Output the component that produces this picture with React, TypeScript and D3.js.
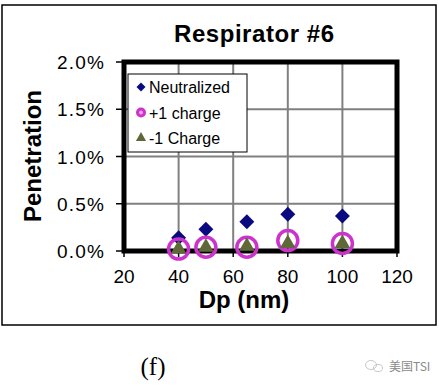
import * as React from 'react'
import * as d3 from 'd3'

// particle diameters (nm)
const dp = [40, 50, 65, 80, 100]
// penetration fractions
const neutralized = [0.0014, 0.0023, 0.0031, 0.0039, 0.0037]
const plusOne = [0.0002, 0.0004, 0.0004, 0.0011, 0.0008]
const minusOne = [0.0002, 0.0004, 0.0005, 0.0008, 0.0008]

const xTicks = [20, 40, 60, 80, 100, 120]
const yTicks = [0, 0.005, 0.01, 0.015, 0.02]
const legendLabels = ['Neutralized', '+1 charge', '-1 Charge']

const W = 439
const H = 385
const font = 'Arial, "Liberation Sans", sans-serif'

export default function App() {
    const x = d3.scaleLinear().domain([20, 120]).range([124, 397])
    const y = d3.scaleLinear().domain([0, 0.02]).range([251, 62])
    const pct = d3.format('.1%')

    // square turned 45deg looks like the excel diamond
    const diamond = d3.symbol().type(d3.symbolSquare).size(112)()
    const triangle = d3.symbol().type(d3.symbolTriangle).size(105)()
    const smallDiamond = d3.symbol().type(d3.symbolSquare).size(40)()
    const smallTriangle = d3.symbol().type(d3.symbolTriangle).size(45)()

    const [x0, x1] = x.range()
    const [y0, y1] = y.range()

    return <svg width={W} height={H} style={{ position: 'absolute', left: 0, top: 0, background: '#fff' }}>
        <rect x={2} y={5} width={434} height={320} fill='none' stroke='#000' strokeWidth={1.5} />

        <text x={254} y={42} textAnchor='middle' fontFamily={font} fontWeight='bold' fontSize={24} textLength={160}>
            Respirator #6
        </text>

        {/* grid */}
        {xTicks.slice(1, -1).map(t => (
            <line key={'gx' + t} x1={x(t)} x2={x(t)} y1={y1} y2={y0} stroke='#808080' strokeWidth={2} />
        ))}
        {yTicks.slice(1, -1).map(t => (
            <line key={'gy' + t} x1={x0} x2={x1} y1={y(t)} y2={y(t)} stroke='#808080' strokeWidth={2} />
        ))}

        {/* y axis */}
        {yTicks.map(t => (
            <g key={'ty' + t}>
                <line x1={116} x2={x0} y1={y(t)} y2={y(t)} stroke='#000' strokeWidth={1.5} />
                <text x={104} y={y(t) + 7} textAnchor='end' fontFamily={font} fontSize={19} textLength={47}>{pct(t)}</text>
            </g>
        ))}
        {/* x axis */}
        {xTicks.map(t => (
            <g key={'tx' + t}>
                <line x1={x(t)} x2={x(t)} y1={y0} y2={y0 + 6} stroke='#000' strokeWidth={1.5} />
                <text x={x(t)} y={283} textAnchor='middle' fontFamily={font} fontSize={19}>{t}</text>
            </g>
        ))}

        {/* plot frame */}
        <rect x={x0} y={y1} width={x1 - x0} height={y0 - y1} fill='none' stroke='#000' strokeWidth={5} />

        {/* series */}
        {dp.map((d, i) => (
            <path key={'n' + d} d={diamond} transform={`translate(${x(d)},${y(neutralized[i])}) rotate(45)`} fill='#0a0a80' />
        ))}
        {dp.map((d, i) => (
            <circle key={'p' + d} cx={x(d)} cy={y(plusOne[i])} r={10} fill='none' stroke='#cc33cc' strokeWidth={3.5} />
        ))}
        {dp.map((d, i) => (
            <path key={'m' + d} d={triangle} transform={`translate(${x(d)},${y(minusOne[i])})`} fill='#5f6838' />
        ))}

        {/* legend */}
        <rect x={128} y={74} width={119} height={78} fill='#fff' stroke='#000' strokeWidth={1} />
        {legendLabels.map((l, i) => {
            const cy = 87 + i * 25.5
            return <g key={l}>
                {i === 0 && <path d={smallDiamond} transform={`translate(141,${cy}) rotate(45)`} fill='#0a0a80' />}
                {i === 1 && <circle cx={141} cy={cy} r={3.5} fill='#f0a0f0' stroke='#cc33cc' strokeWidth={3} />}
                {i === 2 && <path d={smallTriangle} transform={`translate(141,${cy})`} fill='#5f6838' />}
                <text x={149} y={cy + 6} fontFamily={font} fontSize={16}>{l}</text>
            </g>
        })}

        <text transform='translate(41,156) rotate(-90)' textAnchor='middle' fontFamily={font} fontWeight='bold' fontSize={24}>
            Penetration
        </text>
        <text x={244} y={308} textAnchor='middle' fontFamily={font} fontWeight='bold' fontSize={24}>
            Dp (nm)
        </text>

        <text x={153} y={375} textAnchor='middle' fontFamily='"Liberation Serif", "DejaVu Serif", serif' fontSize={25}>(f)</text>

        {/* watermark */}
        <g fill='none' stroke='#c8c8c8' strokeWidth={1}>
            <ellipse cx={371} cy={365} rx={5.5} ry={4.5} />
            <ellipse cx={378} cy={368} rx={4.5} ry={3.5} />
        </g>
        <text x={389} y={371} fontFamily='"Noto Sans CJK SC", sans-serif' fontSize={12} fill='#8a8a8a'>美国TSI</text>
    </svg>
}
